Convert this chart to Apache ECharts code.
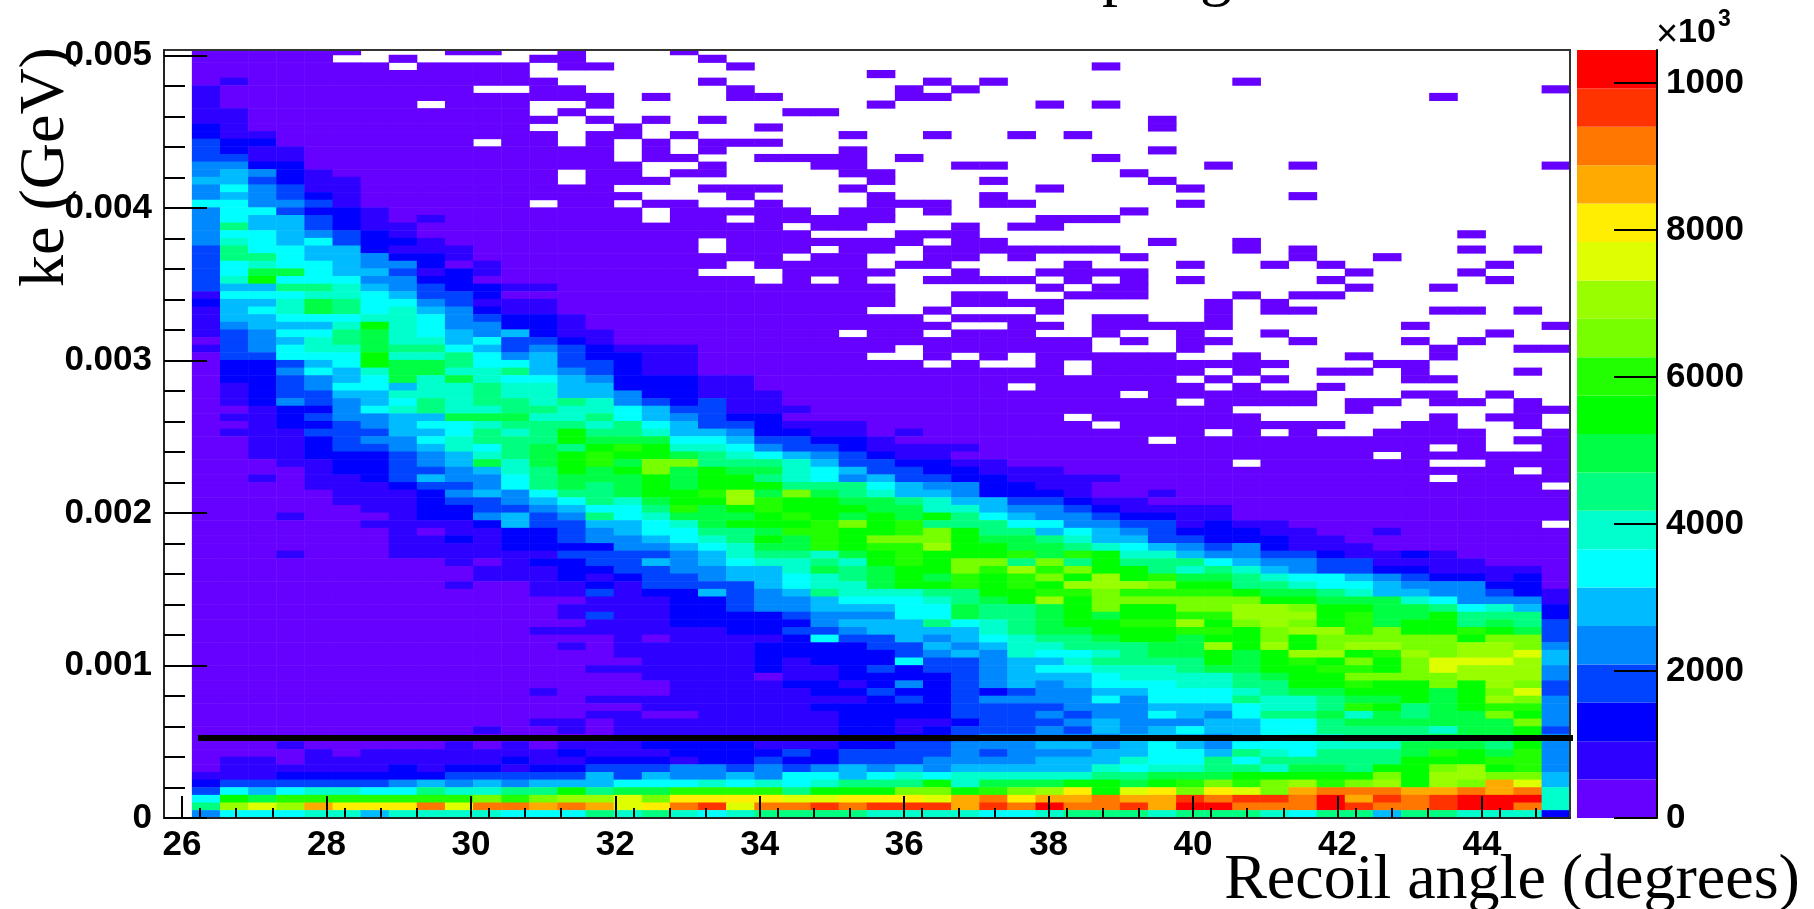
<!DOCTYPE html>
<html><head><meta charset="utf-8">
<style>html,body{margin:0;padding:0;background:#fff}#c{width:1814px;height:909px}</style>
<script src="https://cdn.jsdelivr.net/npm/echarts@6/dist/echarts.min.js"></script>
</head><body><div id="c"></div>
<script>
// Colour level of each histogram cell, top row first.
// 0-9,a-j = colour level 0..19 of the palette; '.' = empty cell (drawn white).
const cellLevelRows = [
"000000...0 0..0...0.. .......... .......... .........",
"00000..0.. ..00....0. .......... .......... .........",
"0000000.00 00.00....0 .......... ..0....... .........",
"0000000000 00........ ....0..... .......... .........",
"0100000000 000.....0. ......0.0. .......0.. .........",
"1000000000 ..00.....0 .....0.0.. .......... ........0",
"1000000000 00000.0..0 0....00... .......... ....0....",
"10000000.0 00..0..... ....0..... 0.0....... .........",
"1100000000 00.0...... .00....... .......... .........",
"1100000000 000.0.0.0. .......... ....0..... .........",
"2100000000 00...0.... 0......... ....0..... .........",
"2110000000 000.00.0.. ...0..0..0 .0........ .........",
"3220000000 .00.0.0.00 0......... .......... .........",
"3211000000 00000.0.0. ...0...... ....0..... .........",
"3311000000 00000.00.. 0000.0.... ..0....... .........",
"4422000000 000000..0. ..00...00. ......0..0 ........0",
"4542100000 000.00.00. ...00..... ...0...... .........",
"5532110000 000.000... ....0...0. ....0..... .........",
"4643110000 00000...00 0..0...... 0....0.... .........",
"4543210000 000000...0 ....0...0. .........0 .........",
"6644310000 00.00.00.. 0...000.00 .....0.... .........",
"4663221000 000000.000 00.00.0... ...0...... .........",
"4655321010 000000.00. 00000..... 000....... .........",
"4855321100 0000000000 0.00...0.0 0......... .........",
"4665432100 0000000000 00...000.. .......... .....0...",
"4765632210 00000000.0 000000.00. ....0..0.. .........",
"3866552111 00000000.0 00.00.0000 000....0.0 .....0.0.",
"3886554221 0000000000 0.00..00.0 ...0.....0 ..0......",
"3676654420 100000000. 0000.00... .0...0..0. 0.....0..",
"3699655312 10000000.. .0000..0.. 0000...... .0...0...",
"37a6664422 0000000000 .0.0..0000 .0.0.0.... 0.....0..",
"3558875432 2110000000 00000..... 0.00...... .0..0....",
"1666776533 2000000000 00000..00. .000...0.0 0........",
"2557986643 1110000000 00000..000 0.....0.0. .........",
"1567986754 2110000000 0000..0... 0.....0.00 ....00.0.",
"1556667764 3221000000 000000.000 ..00..0... .........",
"145557a764 4221000000 0000000..0 0.00000... ...0....0",
"1346689765 4521100000 000.00.000 ..0..0..0. ......0..",
"0345789775 6332100000 0000000000 00.0.00..0 ...0.0...",
"1346779886 5343211100 00000.0000 00...0.... ....0..00",
"033666a778 6453221100 0000..0.0. 00000..0.. .0..0....",
"022356a998 6653321100 000000.0.. 0.0000000. ..00.....",
"0224657997 7854321100 0000000000 0.0000.0.. 00.0...0.",
"0223456979 7665422211 0000000000 00000.0.0. ...00....",
"0123466577 8775522211 000000000. 000000.0.. 0........",
"0123355777 8775542211 1000000000 000.000000 ...00.0..",
"0124345687 8878743231 1000000000 00000.0000 .00.00.0.",
"0012246787 7887765331 1100000000 0000000... .0.....00",
"0112344559 9977865432 2000000000 0.000000.. ....0.00.",
"0012234566 7888786533 2111000000 00.0000000 0..00..0.",
"0111333556 878a887554 2211010000 000000.0.0 ..0000..0",
"0011234467 888a999665 3322100000 0000.00000 000000.00",
"0011233457 6898aba776 4332111100 0000000000 0000.0..0",
"0011222345 789abaa987 6543211000 0000000000 00.000000",
"0001122345 979ab9cc88 8753322110 0000000.00 0000..000",
"0000122334 578a9ac9a9 9765332211 1000000000 0000000.0",
"0010112354 468999a9aa 8764533221 1110000000 0000.0000",
"0000111233 468989a9aa a888654422 1100000000 00000000.",
"0000011124 546889aabd 9c98755422 2100100000 000000000",
"0000011123 3456879aad baa9987553 3211000000 000000000",
"0000001122 3345668b9a baaa997754 4321111000 000000000",
"0001000122 4534867999 aba9a9a865 4432211000 000000000",
"0000001111 253355679a aabcab8886 6443312110 00000000.",
"0000000101 1223456688 9bbaabca88 5654322211 001000000",
"0000000112 1223445678 a9baccca99 8755332221 100000000",
"0000000111 1222244567 99babbdaa9 9876543421 110000000",
"0001000111 1113333457 8879abaaab 9ba7754433 211210000",
"0000000001 0122335456 7787abacc8 c8a8886544 331111000",
"0000000000 1112233445 57989aacbd bcaa878754 332211110",
"0000000000 1112123345 56789a9bab cadab99876 654322120",
"0000000001 0011213333 56779aabab adddcaa887 665444220",
"0000000000 0011312253 45877788aa bbcbbbba99 875544321",
"0000000000 0000111223 445666789a daccccccaa 999764441",
"0000000000 0001111223 4455566988 9acaaccddc aa9986752",
"0000000000 0001311222 2344466988 9a9aabbddd ab99a8882",
"0000000000 0000111222 2245558678 9aabbdacdc ab9aa8983",
"0000000000 0011111112 2334555578 99aaabbacd dbcaaba93",
"0000000000 0000010111 1263354567 889aa9aaca cccccacc3",
"0000000000 0001011111 2222335457 788899dada cddccddc4",
"0000000000 0000011111 2222234547 667899a9ad dabdcdde5",
"0000000000 0000001111 2122263345 578888a9ab acaceeed5",
"0000000000 0000111111 2112323345 66777899aa bbaceddd4",
"0000000000 0000001111 0112222345 556777789a accccddd4",
"0000000000 0000000111 1221242345 456667788a abaacadc3",
"0000000000 0010000111 1122322323 4455666789 9aaa9ace3",
"0000000000 0000111111 1111232344 4464666877 899a9adc4",
"0000000000 0000001111 1122222333 3444555677 8ba89abb4",
"0000000000 0000110011 1112222333 4344654688 979899ca4",
"0000000000 0011011111 1112211233 3454445566 8999999c4",
"0000000000 1001011111 1112212333 4354565566 8888799a3",
"0000000000 0000011111 1112222344 4445554567 7888999a4",
"0001000001 0101112222 1112233444 5545654666 7779998a4",
"0000101111 1112111222 2323333434 4455665876 8889ba9b4",
"0110111111 1211222122 3223334444 5557668688 888aaabb4",
"0111111212 2122333443 4345454555 5576778879 98aacdab4",
"1112222223 3333535445 4665676777 7788999aaa aacaddcc5",
"2333333454 5455566676 767888a799 9aa9abcbcd bcdadcge5",
"3656776687 788a899bbb b8aaaccabc dfaefcfecg hhhgghgh7",
"6a9bbbbbbb cbcddecfff feefffeghf gghggihiih jgihijjj7",
"8dedgfffhe hhghgefhie hhihiiigih jhhigjjhhh jihhijjh7",
"4666775777 7666878767 8888777766 7888788876 885887772"
];
const paletteColors = ["#6600ff","#2e00ff","#0000ff","#0044ff","#0088ff","#00bbff","#00ffff","#00ffcc","#00ff80","#00ff44",
 "#00ff00","#22ff00","#77ff00","#99ff00","#ddff00","#ffee00","#ffaa00","#ff7700","#ff3300","#ff0000"];
const levelStep = 522.45;
const xTicks = [26,28,30,32,34,36,38,40,42,44];
const yTicks = [0,0.001,0.002,0.003,0.004,0.005];
const colorTicks = [0,2000,4000,6000,8000,10000];
const colorTickLabels = ["0","2000","4000","6000","8000","1000"];
const cutLineX = [26.22,45.28];
const cutLineY = [0.000524,0.000524];

const FONT = '"Liberation Sans"';
const SERIF = '"Liberation Serif"';
const CODE = "0123456789abcdefghij";
const xBins = Array.from({length:50},(_,i)=>String(i));
const yBins = Array.from({length:101},(_,i)=>String(i));
const cells = [];
cellLevelRows.forEach((row,t)=>{
  row.replace(/ /g,"").split("").forEach((ch,c)=>{
    if(ch!==".") cells.push([c+1,100-t,(CODE.indexOf(ch)+0.5)*levelStep]);
  });
});
const chart = echarts.init(document.getElementById('c'),null,{renderer:'canvas'});
const labelStyle = {color:'#000',fontFamily:FONT,fontWeight:'bold',fontSize:35};
chart.setOption({
  animation:false,
  backgroundColor:'#fff',
  grid:[
    {left:164,top:47.37,width:1406,height:770.63,show:false},
    {left:164,top:50,width:1406,height:768,show:true,backgroundColor:'transparent',borderColor:'#333',borderWidth:2,z:3},
    {left:1577,top:50,width:80,height:768,show:false}
  ],
  visualMap:{type:'piecewise',show:false,seriesIndex:0,dimension:2,
    pieces:paletteColors.map((color,i)=>({min:i*levelStep,max:(i+1)*levelStep,color}))},
  xAxis:[
    {gridIndex:0,type:'category',data:xBins,show:false},
    {gridIndex:1,type:'value',min:25.75,max:45.22,interval:2,z:4,
     axisLine:{onZero:false,lineStyle:{color:'#222',width:2}},
     splitLine:{show:false},
     axisTick:{inside:true,length:22,lineStyle:{color:'#000',width:2},customValues:xTicks},
     minorTick:{show:true,splitNumber:4,length:10,lineStyle:{color:'#000',width:2}},
     axisLabel:{...labelStyle,margin:10,customValues:xTicks}},
    {gridIndex:2,type:'category',data:[''],show:false}
  ],
  yAxis:[
    {gridIndex:0,type:'category',data:yBins,show:false},
    {gridIndex:1,type:'value',min:0,max:0.005037,interval:0.001,z:4,
     axisLine:{onZero:false,lineStyle:{color:'#222',width:2}},
     splitLine:{show:false},
     axisTick:{inside:true,length:43,lineStyle:{color:'#000',width:2},customValues:yTicks},
     minorTick:{show:true,splitNumber:5,length:21,lineStyle:{color:'#000',width:2}},
     axisLabel:{...labelStyle,margin:12,padding:[4,0,0,0],customValues:yTicks}},
    {gridIndex:2,type:'value',position:'right',min:0,max:levelStep*20,interval:2000,z:4,
     axisLine:{show:true,onZero:false,lineStyle:{color:'#000',width:2}},
     splitLine:{show:false},
     axisTick:{show:true,inside:true,length:43,lineStyle:{color:'#000',width:2},customValues:colorTicks},
     axisLabel:{...labelStyle,margin:9,padding:[4,0,0,0],customValues:colorTicks,
       formatter:v=>colorTickLabels[colorTicks.indexOf(v)]}}
  ],
  series:[
    {type:'heatmap',xAxisIndex:0,yAxisIndex:0,data:cells,progressive:0,silent:true,z:2,
     emphasis:{disabled:true},itemStyle:{borderWidth:0}},
    {type:'line',xAxisIndex:1,yAxisIndex:1,z:5,clip:false,silent:true,showSymbol:false,symbol:'none',
     lineStyle:{color:'#000',width:6,cap:'butt'},
     data:cutLineX.map((x,i)=>[x,cutLineY[i]])},
    ...paletteColors.map(color=>({type:'bar',xAxisIndex:2,yAxisIndex:2,stack:'bar',barWidth:'100%',silent:true,
      itemStyle:{color},data:[levelStep]}))
  ],
  graphic:[
    {type:'rect',shape:{x:160,y:44,width:1415,height:5},style:{fill:'#fff'},z:3},
    {type:'text',x:46,y:167,rotation:Math.PI/2,z:10,
     style:{text:'ke (GeV)',font:'64px '+SERIF,fill:'#000',textAlign:'center',textVerticalAlign:'middle'}},
    {type:'text',x:1512,y:881,z:10,
     style:{text:'Recoil angle (degrees)',font:'64px '+SERIF,fill:'#000',textAlign:'center',textVerticalAlign:'middle'}},
    {type:'text',x:1656,y:36,z:10,
     style:{text:'×',font:'38px '+FONT,fill:'#000',textAlign:'left',textVerticalAlign:'middle'}},
    {type:'text',x:1678,y:33,z:10,
     style:{text:'10',font:'bold 34px '+FONT,fill:'#000',textAlign:'left',textVerticalAlign:'middle'}},
    {type:'text',x:1718,y:20,z:10,
     style:{text:'3',font:'bold 23px '+FONT,fill:'#000',textAlign:'left',textVerticalAlign:'middle'}},
    {type:'text',x:1118,y:-24,z:10,
     style:{text:'p',font:'64px '+SERIF,fill:'#000',textAlign:'center',textVerticalAlign:'middle'}},
    {type:'text',x:1216,y:-24,z:10,
     style:{text:'g',font:'64px '+SERIF,fill:'#000',textAlign:'center',textVerticalAlign:'middle'}}
  ]
});
</script></body></html>
